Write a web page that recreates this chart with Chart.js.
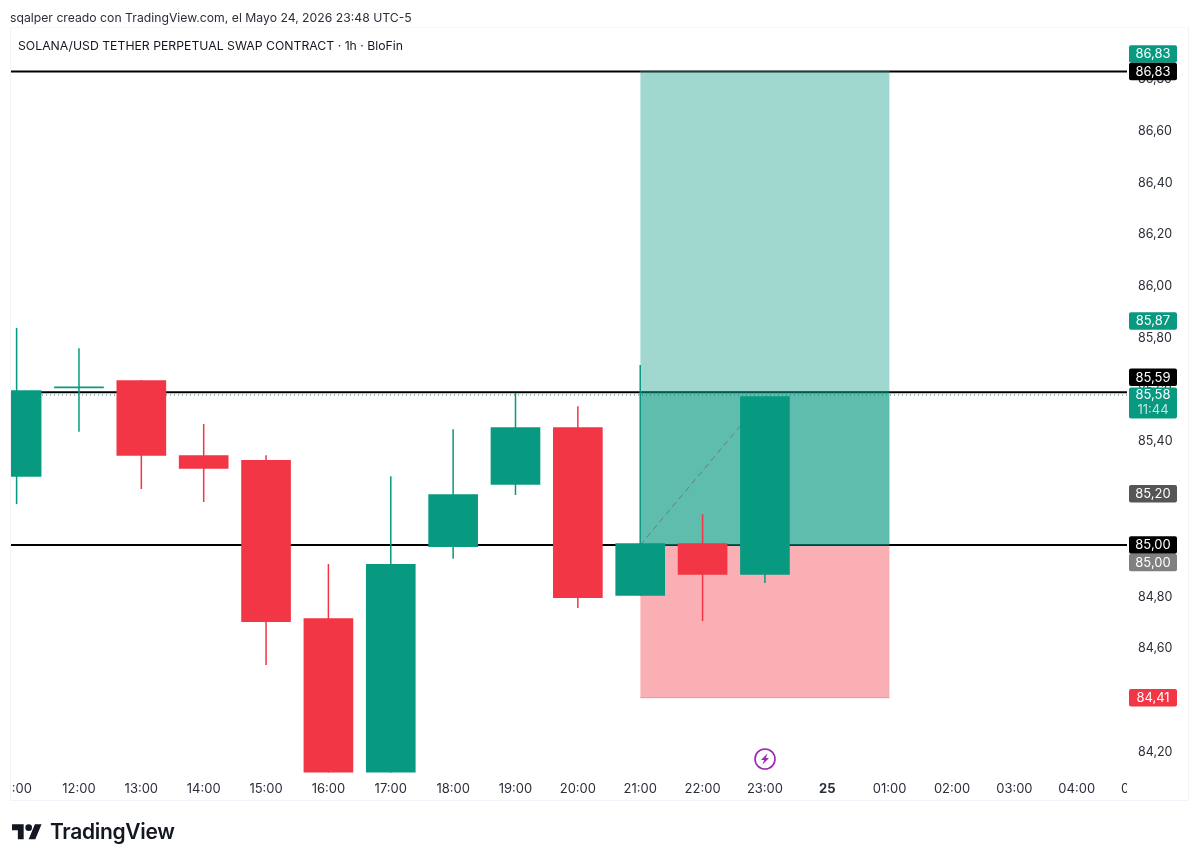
<!DOCTYPE html>
<html>
<head>
<meta charset="utf-8">
<script src="https://cdn.jsdelivr.net/npm/chart.js@4/dist/chart.umd.js"></script>
<style>
html,body{margin:0;padding:0;background:#fff;width:1200px;height:863px;overflow:hidden}
body{position:relative;font-family:Inter,"Liberation Sans",sans-serif;color:#131722}
canvas{position:absolute;left:0;top:0}
.abs{position:absolute;white-space:nowrap}
#frame{left:10px;top:27px;width:1179px;height:774px;border:1px solid #f0f3fa;border-top-color:#f7f8fb;box-sizing:border-box;pointer-events:none}
</style>
</head>
<body>
<canvas id="c" width="1200" height="863"></canvas>
<div class="abs" id="frame"></div>
<div class="abs" style="left:10px;top:10px;font-size:12.23px;line-height:16px;color:#2a2e39">sqalper creado con TradingView.com, el Mayo 24, 2026 23:48 UTC-5</div>
<div class="abs" style="left:18px;top:38px;font-size:12.26px;line-height:16px;color:#131722">SOLANA/USD TETHER PERPETUAL SWAP CONTRACT · 1h · BloFin</div>
<svg class="abs" style="left:12px;top:821px" width="30" height="23.3" viewBox="0 0 36 28"><path fill="#131722" d="M14 22H7V11H0V4h14v18ZM28 22h-8l7.5-18h8L28 22Z"/><circle fill="#131722" cx="20" cy="8" r="4"/></svg>
<div class="abs" style="left:50px;top:818px;font-size:21px;line-height:28px;font-weight:600;letter-spacing:-0.3px;color:#131722">TradingView</div>
<svg class="abs" style="left:753px;top:747px" width="24" height="24" viewBox="0 0 24 24"><circle cx="12" cy="12" r="10" fill="#fff" stroke="#9c27b0" stroke-width="1.6"/><path fill="#9c27b0" d="M14.6 6.2 8 13h3.2l-1.8 4.8L16 11h-3.2z"/></svg>
<script>
// Hour positions along the time axis (12 = 12:00, 24 = day 25 00:00)
const hours  = [11,12,13,14,15,16,17,18,19,20,21,22,23];
const opens  = [85.265,85.607,85.636,85.346,85.327,84.716,84.100,84.994,85.234,85.454,84.805,85.006,84.886];
const closes = [85.597,85.611,85.346,85.296,84.704,84.100,84.925,85.195,85.454,84.797,85.006,84.886,85.574];
const highs  = [85.837,85.759,85.636,85.466,85.346,84.925,85.265,85.446,85.586,85.535,85.694,85.118,85.574];
const lows   = [85.160,85.439,85.218,85.168,84.538,84.100,84.100,84.948,85.195,84.758,84.805,84.708,84.855];

const timeTicks  = [11,12,13,14,15,16,17,18,19,20,21,22,23,24,25,26,27,28,29];
const timeLabels = ["11:00","12:00","13:00","14:00","15:00","16:00","17:00","18:00","19:00","20:00","21:00","22:00","23:00","25","01:00","02:00","03:00","04:00","05:00"];
const priceTicks = [84.2,84.4,84.6,84.8,85.0,85.2,85.4,85.6,85.8,86.0,86.2,86.4,86.6,86.8];

const targetPrice = 86.83, midPrice = 85.59, entryPrice = 85.00, stopPrice = 84.41, lastPrice = 85.58;
const boxStart = 21, boxEnd = 25;
const tradeFrom = [21, 85.00], tradeTo = [23, 85.574];
const otherPrices = {swing: 85.87, grey: 85.20};
const countdown = "11:44";

const UP = '#089981', DOWN = '#F23645';
const XMIN = 10.894, XMAX = 28.806;
const fmt = v => v.toFixed(2).replace('.', ',');
const candleColors = opens.map((o,i) => closes[i] >= o ? UP : DOWN);
const hline = (v,color,width,order,dash) => ({type:'line',data:[{x:XMIN,y:v},{x:XMAX,y:v}],borderColor:color,borderWidth:width,borderDash:dash||[],pointRadius:0,fill:false,order});
const box = (from,to,base,fillColor,edge,order) => ({type:'line',data:[{x:from,y:to},{x:boxEnd,y:to}],borderColor:edge,borderWidth:1,pointRadius:0,backgroundColor:fillColor,fill:{value:base},order});

const tagsPlugin = {
  id:'tags',
  afterDraw(chart){
    const {ctx,scales:{y}} = chart;
    ctx.save();
    ctx.fillStyle='#fff';
    ctx.fillRect(0,773,10,27);
    ctx.fillRect(1127,773,62,27);
    const tags = [
      {p:targetPrice,dy:-17.5,bg:UP,lines:[fmt(targetPrice)]},
      {p:targetPrice,dy:0,bg:'#000',lines:[fmt(targetPrice)]},
      {p:otherPrices.swing,dy:1,bg:UP,lines:[fmt(otherPrices.swing)]},
      {p:midPrice,dy:-15,bg:'#000',lines:[fmt(midPrice)]},
      {p:lastPrice,dy:8,bg:UP,h:31,lines:[fmt(lastPrice),countdown]},
      {p:otherPrices.grey,dy:0.5,bg:'#555555',lines:[fmt(otherPrices.grey)]},
      {p:entryPrice,dy:0,bg:'#000',lines:[fmt(entryPrice)]},
      {p:entryPrice,dy:17.5,bg:'#808080',lines:[fmt(entryPrice)]},
      {p:stopPrice,dy:0,bg:DOWN,lines:[fmt(stopPrice)]}
    ];
    ctx.font='13px Inter, "Liberation Sans", sans-serif';
    ctx.textAlign='center';ctx.textBaseline='middle';
    tags.forEach(t=>{
      const cy=y.getPixelForValue(t.p)+t.dy, h=t.h||17.5;
      ctx.fillStyle=t.bg;
      ctx.beginPath();ctx.roundRect(1129,cy-h/2,48,h,2);ctx.fill();
      t.lines.forEach((s,i)=>{
        ctx.fillStyle=i?'rgba(255,255,255,.75)':'#fff';
        const ly=t.lines.length>1?cy-7.5+i*15:cy+0.5;
        ctx.fillText(s,1153,ly);
      });
    });
    ctx.restore();
  }
};

new Chart(document.getElementById('c'),{
  type:'bar',
  plugins:[tagsPlugin],
  data:{datasets:[
    hline(targetPrice,'#000',2,50),
    hline(midPrice,'#000',2,50),
    hline(entryPrice,'#000',2,50),
    hline(lastPrice,'#3a7d72',1,49,[1,3]),
    box(boxStart,targetPrice,entryPrice,'rgba(8,153,129,0.385)','rgba(8,153,129,0.385)',40),
    box(boxStart,midPrice,entryPrice,'rgba(8,153,129,0.42)','rgba(8,153,129,0.0)',39),
    box(boxStart,stopPrice,entryPrice,'rgba(242,54,69,0.4)','rgba(242,54,69,0.4)',38),
    {type:'line',data:[{x:tradeFrom[0],y:tradeFrom[1]},{x:tradeTo[0],y:tradeTo[1]}],borderColor:'rgba(110,110,112,0.85)',borderWidth:1,borderDash:[6,4],pointRadius:0,fill:false,order:30},
    {type:'bar',data:hours.map((h,i)=>({x:h,y:[lows[i],highs[i]]})),backgroundColor:candleColors,barThickness:0.85,grouped:false,order:20},
    {type:'bar',data:hours.map((h,i)=>({x:h,y:[opens[i],closes[i]]})),backgroundColor:candleColors,barThickness:49,grouped:false,order:10}
  ]},
  options:{
    responsive:false,animation:false,
    layout:{autoPadding:false,padding:{left:10,top:27.5,right:10,bottom:61.5}},
    plugins:{legend:{display:false},tooltip:{enabled:false},title:{display:false}},
    scales:{
      x:{type:'linear',offset:false,min:XMIN,max:XMAX,
        grid:{display:false,drawTicks:false},border:{display:false},
        afterBuildTicks:s=>{s.ticks=timeTicks.map(v=>({value:v}));},
        afterFit:s=>{s.height=29;s.paddingLeft=0;s.paddingRight=0;},
        ticks:{autoSkip:false,maxRotation:0,minRotation:0,padding:9,color:'#2a2e39',
          font:c=>({family:'Inter, "Liberation Sans", sans-serif',size:13,weight:(c.tick&&c.tick.value===24)?'bold':'normal'}),
          callback:v=>timeLabels[timeTicks.indexOf(v)]}
      },
      y:{type:'linear',position:'right',min:84.121,max:87,
        grid:{display:false,drawTicks:false},border:{display:false},
        afterBuildTicks:s=>{s.ticks=priceTicks.map(v=>({value:v}));},
        afterFit:s=>{s.width=63;},
        ticks:{padding:11,color:'#2a2e39',autoSkip:false,
          font:{family:'Inter, "Liberation Sans", sans-serif',size:12.5},
          callback:v=>fmt(v)}
      }
    }
  }
});
</script>
</body>
</html>
